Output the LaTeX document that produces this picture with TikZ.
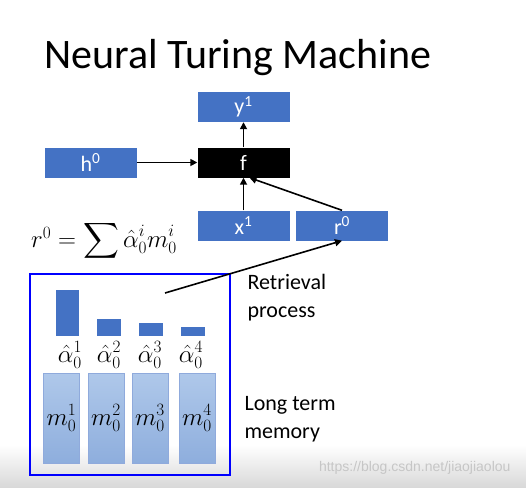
\documentclass[tikz,border=0pt]{standalone}
\usepackage{amsmath}
\usepackage{fontspec}
\setmainfont{Carlito}
\newfontfamily\wmfont{Liberation Sans}
\usepackage{tikz}
\usetikzlibrary{arrows.meta, positioning}
\usepackage{xcolor}
\definecolor{boxblue}{HTML}{4472C4}
\definecolor{memtop}{HTML}{AFC8EA}
\definecolor{membot}{HTML}{8EAEDD}
\definecolor{memline}{HTML}{8FAADC}

\begin{document}
\begin{tikzpicture}[x=1pt, y=-1pt,
    box/.style={fill=boxblue, text=white, minimum width=92pt, minimum height=30pt, inner sep=0pt, font=\fontsize{22}{22}\selectfont},
    mem/.style={draw=memline, top color=memtop, bottom color=membot, minimum width=36pt, minimum height=90pt, inner sep=0pt, font=\fontsize{23}{23}\selectfont},
    arr/.style={-{Triangle[length=7pt, width=7pt]}, line width=1.6pt},
    lbl/.style={anchor=west, align=left, font=\fontsize{22}{28}\selectfont}]
    \useasboundingbox (0, 0) rectangle (526, 487);
    % 底部阴影
    \shade[top color=white, bottom color=gray!30] (0, 445) rectangle (526, 487);

    % 标题
    \node[anchor=base west, inner sep=0pt, font=\fontsize{42}{42}\selectfont] (title) at (44, 68) {Neural Turing Machine};

    % 网络部分
    \node[box] (y1) at (243.5, 107) {y\textsuperscript{1}};
    \node[box, fill=black] (f) at (243.5, 162.5) {f};
    \node[box] (h0) at (90.5, 162.5) {h\textsuperscript{0}};
    \node[box] (x1) at (243.5, 225.5) {x\textsuperscript{1}};
    \node[box] (r0) at (342, 225.5) {r\textsuperscript{0}};
    \draw[arr] (h0) -- (f);
    \draw[arr] (f) -- (y1);
    \draw[arr] (x1) -- (f);
    \draw[arr] (r0.north) -- ([xshift=6pt]f.south);

    % 公式
    \node[font=\fontsize{23}{23}\selectfont] (eq) at (104, 241) {$r^0 = \displaystyle\sum \hat{\alpha}_0^i m_0^i$};

    % 记忆
    \draw[blue, line width=2.5pt] (30, 274) rectangle (230, 475);
    \fill[boxblue] (56, 290) rectangle (79, 336);
    \fill[boxblue] (97, 319) rectangle (121, 336);
    \fill[boxblue] (139, 323) rectangle (163, 336);
    \fill[boxblue] (181, 327) rectangle (205, 336);
    \node[font=\fontsize{23}{23}\selectfont] (a1) at (70, 355) {$\hat{\alpha}_0^1$};
    \node[font=\fontsize{23}{23}\selectfont] (a2) at (109, 355) {$\hat{\alpha}_0^2$};
    \node[font=\fontsize{23}{23}\selectfont] (a3) at (150, 355) {$\hat{\alpha}_0^3$};
    \node[font=\fontsize{23}{23}\selectfont] (a4) at (191, 355) {$\hat{\alpha}_0^4$};
    \node[mem] (m1) at (61.5, 418) {$m_0^1$};
    \node[mem] (m2) at (106, 418) {$m_0^2$};
    \node[mem] (m3) at (150, 418) {$m_0^3$};
    \node[mem] (m4) at (197, 418) {$m_0^4$};

    % 读取
    \coordinate (rd) at (165, 293);
    \draw[arr] (rd) -- (r0.south);
    \node[lbl] (retr) at (244, 298) {Retrieval\\process};
    \node[lbl] (ltm) at (241, 419) {Long term\\memory};

    \node[anchor=east, text=gray!45, font=\wmfont\fontsize{14}{14}\selectfont] (wm) at (514, 468) {https://blog.csdn.net/jiaojiaolou};
\end{tikzpicture}
\end{document}
